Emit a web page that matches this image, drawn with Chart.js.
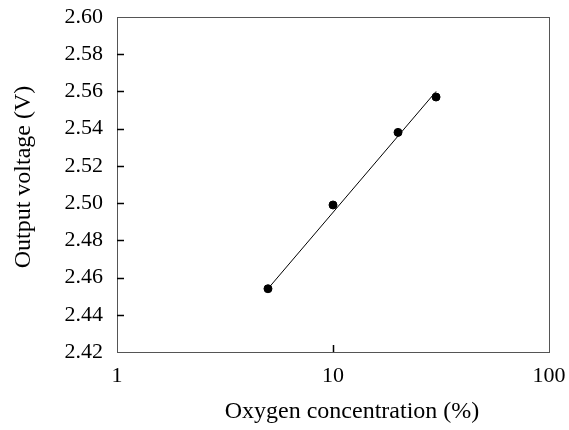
<!DOCTYPE html>
<html>
<head>
<meta charset="utf-8">
<script src="https://cdn.jsdelivr.net/npm/chart.js@4"></script>
<style>
  body { margin: 0; background: #fff; }
</style>
</head>
<body>
<canvas id="chart" width="569" height="430"></canvas>
<script>
// measured points
const oxygen = [5, 10, 20, 30];
const voltage = [2.454, 2.499, 2.538, 2.557];
// fitted line end points
const fitX = [5, 30];
const fitY = [2.454, 2.560];

const xTicks = [1, 10, 100];
const yTicks = [2.42, 2.44, 2.46, 2.48, 2.50, 2.52, 2.54, 2.56, 2.58, 2.60];
const xTitle = "Oxygen concentration (%)";
const yTitle = "Output voltage (V)";

const FONT = "'Liberation Serif', 'Times New Roman', serif";

// box, inward ticks and axis titles
const frame = {
  id: "frame",
  afterDraw(chart) {
    const { ctx, chartArea: a, scales } = chart;
    ctx.save();
    ctx.strokeStyle = "#555";
    ctx.lineWidth = 1;
    ctx.strokeRect(Math.round(a.left) + 0.5, Math.round(a.top) + 0.5,
      Math.round(a.width), Math.round(a.height));

    ctx.strokeStyle = "#000";
    ctx.lineWidth = 1.5;
    ctx.beginPath();
    yTicks.slice(1, -1).forEach(v => {
      const y = Math.round(scales.y.getPixelForValue(v)) + 0.5;
      ctx.moveTo(a.left, y);
      ctx.lineTo(a.left + 7, y);
    });
    xTicks.slice(1, -1).forEach(v => {
      const x = Math.round(scales.x.getPixelForValue(v)) + 0.5;
      ctx.moveTo(x, a.bottom);
      ctx.lineTo(x, a.bottom - 7);
    });
    ctx.stroke();

    ctx.fillStyle = "#000";
    ctx.font = "24px " + FONT;
    ctx.textAlign = "center";
    ctx.textBaseline = "alphabetic";
    ctx.fillText(xTitle, a.left + a.width / 2 + 19, a.bottom + 66);

    ctx.translate(30, a.top + 160);
    ctx.rotate(-Math.PI / 2);
    ctx.fillText(yTitle, 0, 0);
    ctx.restore();
  }
};

new Chart(document.getElementById("chart"), {
  type: "scatter",
  data: {
    datasets: [
      {
        data: oxygen.map((x, i) => ({ x: x, y: voltage[i] })),
        backgroundColor: "#000",
        borderColor: "#000",
        pointRadius: 4,
        pointHoverRadius: 4
      },
      {
        type: "line",
        data: fitX.map((x, i) => ({ x: x, y: fitY[i] })),
        borderColor: "#000",
        borderWidth: 1,
        pointRadius: 0,
        fill: false
      }
    ]
  },
  options: {
    responsive: false,
    animation: false,
    layout: { padding: { top: 17, right: 20 } },
    plugins: {
      legend: { display: false },
      tooltip: { enabled: false }
    },
    scales: {
      x: {
        type: "logarithmic",
        min: 1,
        max: 100,
        afterBuildTicks: s => { s.ticks = xTicks.map(v => ({ value: v })); },
        afterFit: s => { s.height = 78; s.paddingLeft = 0; s.paddingRight = 0; },
        grid: { display: false, drawTicks: false },
        border: { display: false },
        ticks: {
          color: "#000",
          font: { family: FONT, size: 22 },
          padding: 11,
          maxRotation: 0,
          autoSkip: false,
          callback: v => String(v)
        }
      },
      y: {
        min: 2.42,
        max: 2.60,
        afterBuildTicks: s => { s.ticks = yTicks.map(v => ({ value: v })); },
        afterFit: s => { s.width = 117; s.paddingTop = 0; s.paddingBottom = 0; },
        grid: { display: false, drawTicks: false },
        border: { display: false },
        ticks: {
          color: "#000",
          font: { family: FONT, size: 22 },
          padding: 14,
          autoSkip: false,
          callback: v => v.toFixed(2)
        }
      }
    }
  },
  plugins: [frame]
});
</script>
</body>
</html>
